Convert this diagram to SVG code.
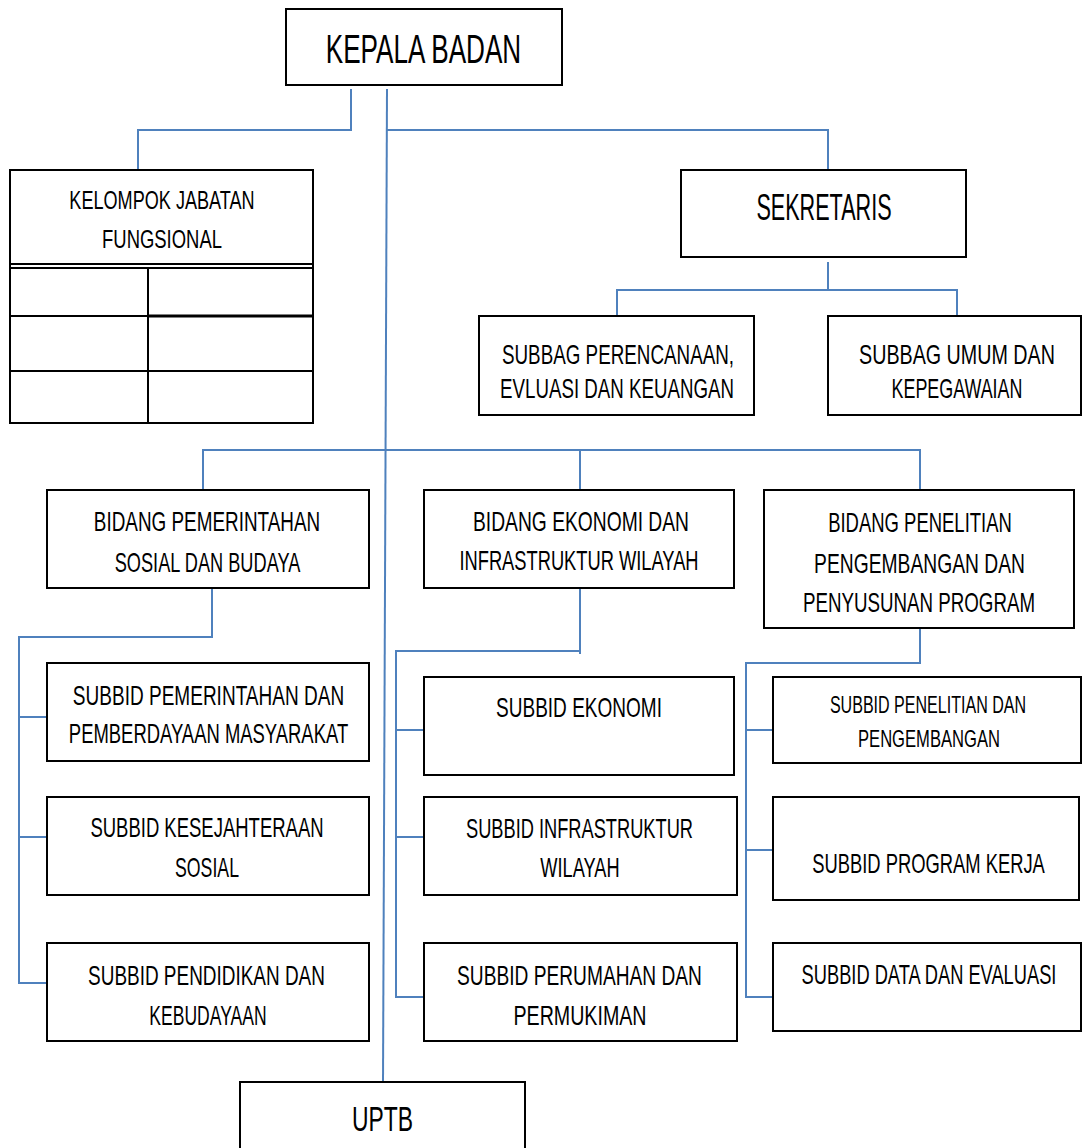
<svg xmlns="http://www.w3.org/2000/svg" width="1082" height="1148" viewBox="0 0 1082 1148">
<style>
.box{fill:#fff;stroke:#000;stroke-width:2}
.ln{stroke:#000;stroke-width:2;fill:none}
.c{stroke:#4f81bd;stroke-width:2;fill:none}
text{font-family:"Liberation Sans",Arial,sans-serif;text-anchor:middle;fill:#000}
.f27{font-size:27px}
.f25{font-size:25px}
.f23{font-size:23px}
</style>
<rect width="1082" height="1148" fill="#fff"/>
<g id="connectors">
<path class="c" d="M351,89 V130 H138 V170"/>
<path class="c" d="M387,89 L383,1082"/>
<path class="c" d="M387,130 H828 V170"/>
<path class="c" d="M828,262 V290 M617,316 V290 H957 V316"/>
<path class="c" d="M203,490 V450 H920 V490 M580,450 V490"/>
<path class="c" d="M212,588 V637 H19 V983 H47 M19,717 H47 M19,837 H47"/>
<path class="c" d="M580,588 V654 M580,651 H396 V997 H424 M396,730 H424 M396,837 H424"/>
<path class="c" d="M920,628 V663 H746 V997 H773 M746,730 H773 M746,850 H773"/>
</g>
<g id="kepala-badan">
<rect class="box" x="286" y="9" width="276" height="76"/>
<text style="font-size:41px" transform="translate(423.5,63) scale(0.637,1)">KEPALA BADAN</text>
</g>
<g id="kelompok-jabatan-fungsional">
<rect class="box" x="10" y="170" width="303" height="253"/>
<path class="ln" d="M10,264 H313 M10,268 H313 M148,268 V423 M10,316 H148 M10,371 H313"/>
<path d="M148,316 H313" stroke="#000" stroke-width="3"/>
<text class="f25" transform="translate(162,209) scale(0.724,1)">KELOMPOK JABATAN</text>
<text class="f25" transform="translate(162,248) scale(0.738,1)">FUNGSIONAL</text>
</g>
<g id="sekretaris">
<rect class="box" x="681" y="170" width="285" height="87"/>
<text style="font-size:37px" transform="translate(824,220) scale(0.584,1)">SEKRETARIS</text>
</g>
<g id="subbag-perencanaan">
<rect class="box" x="479" y="316" width="275" height="99"/>
<text class="f27" transform="translate(618,364) scale(0.697,1)">SUBBAG PERENCANAAN,</text>
<text class="f27" transform="translate(617,398) scale(0.693,1)">EVLUASI DAN KEUANGAN</text>
</g>
<g id="subbag-umum">
<rect class="box" x="828" y="316" width="253" height="99"/>
<text class="f27" transform="translate(957,364) scale(0.730,1)">SUBBAG UMUM DAN</text>
<text class="f27" transform="translate(957,398) scale(0.663,1)">KEPEGAWAIAN</text>
</g>
<g id="bidang-pemerintahan">
<rect class="box" x="47" y="490" width="322" height="98"/>
<text class="f27" transform="translate(207,531) scale(0.700,1)">BIDANG PEMERINTAHAN</text>
<text class="f27" transform="translate(207.5,572) scale(0.674,1)">SOSIAL DAN BUDAYA</text>
</g>
<g id="bidang-ekonomi">
<rect class="box" x="424" y="490" width="310" height="98"/>
<text class="f27" transform="translate(581,531) scale(0.713,1)">BIDANG EKONOMI DAN</text>
<text class="f27" transform="translate(579,570) scale(0.678,1)">INFRASTRUKTUR WILAYAH</text>
</g>
<g id="bidang-penelitian">
<rect class="box" x="764" y="490" width="310" height="138"/>
<text class="f27" transform="translate(920,532) scale(0.684,1)">BIDANG PENELITIAN</text>
<text class="f27" transform="translate(919.5,573) scale(0.714,1)">PENGEMBANGAN DAN</text>
<text class="f27" transform="translate(919,612) scale(0.694,1)">PENYUSUNAN PROGRAM</text>
</g>
<g id="subbid-pemerintahan">
<rect class="box" x="47" y="663" width="322" height="98"/>
<text class="f27" transform="translate(208.5,705) scale(0.705,1)">SUBBID PEMERINTAHAN DAN</text>
<text class="f27" transform="translate(208.5,743) scale(0.683,1)">PEMBERDAYAAN MASYARAKAT</text>
</g>
<g id="subbid-kesejahteraan">
<rect class="box" x="47" y="797" width="322" height="98"/>
<text class="f27" transform="translate(207,837) scale(0.685,1)">SUBBID KESEJAHTERAAN</text>
<text class="f27" transform="translate(207,877) scale(0.656,1)">SOSIAL</text>
</g>
<g id="subbid-pendidikan">
<rect class="box" x="47" y="943" width="322" height="98"/>
<text class="f27" transform="translate(206.5,985) scale(0.702,1)">SUBBID PENDIDIKAN DAN</text>
<text class="f27" transform="translate(208,1025) scale(0.650,1)">KEBUDAYAAN</text>
</g>
<g id="subbid-ekonomi">
<rect class="box" x="424" y="677" width="310" height="98"/>
<text class="f27" transform="translate(579,717) scale(0.705,1)">SUBBID EKONOMI</text>
</g>
<g id="subbid-infrastruktur">
<rect class="box" x="424" y="797" width="313" height="98"/>
<text class="f27" transform="translate(579.5,838) scale(0.676,1)">SUBBID INFRASTRUKTUR</text>
<text class="f27" transform="translate(580,877) scale(0.675,1)">WILAYAH</text>
</g>
<g id="subbid-perumahan">
<rect class="box" x="424" y="943" width="313" height="98"/>
<text class="f27" transform="translate(579.5,985) scale(0.710,1)">SUBBID PERUMAHAN DAN</text>
<text class="f27" transform="translate(580,1025) scale(0.727,1)">PERMUKIMAN</text>
</g>
<g id="subbid-penelitian">
<rect class="box" x="773" y="677" width="308" height="86"/>
<text class="f23" transform="translate(928,713) scale(0.698,1)">SUBBID PENELITIAN DAN</text>
<text class="f23" transform="translate(929,747) scale(0.722,1)">PENGEMBANGAN</text>
</g>
<g id="subbid-program-kerja">
<rect class="box" x="773" y="797" width="306" height="103"/>
<text class="f27" transform="translate(928.5,873) scale(0.681,1)">SUBBID PROGRAM KERJA</text>
</g>
<g id="subbid-data-evaluasi">
<rect class="box" x="773" y="943" width="308" height="88"/>
<text class="f27" transform="translate(929,984) scale(0.677,1)">SUBBID DATA DAN EVALUASI</text>
</g>
<g id="uptb">
<rect class="box" x="240" y="1082" width="285" height="80"/>
<text style="font-size:35px" transform="translate(382.5,1131) scale(0.654,1)">UPTB</text>
</g>
</svg>
